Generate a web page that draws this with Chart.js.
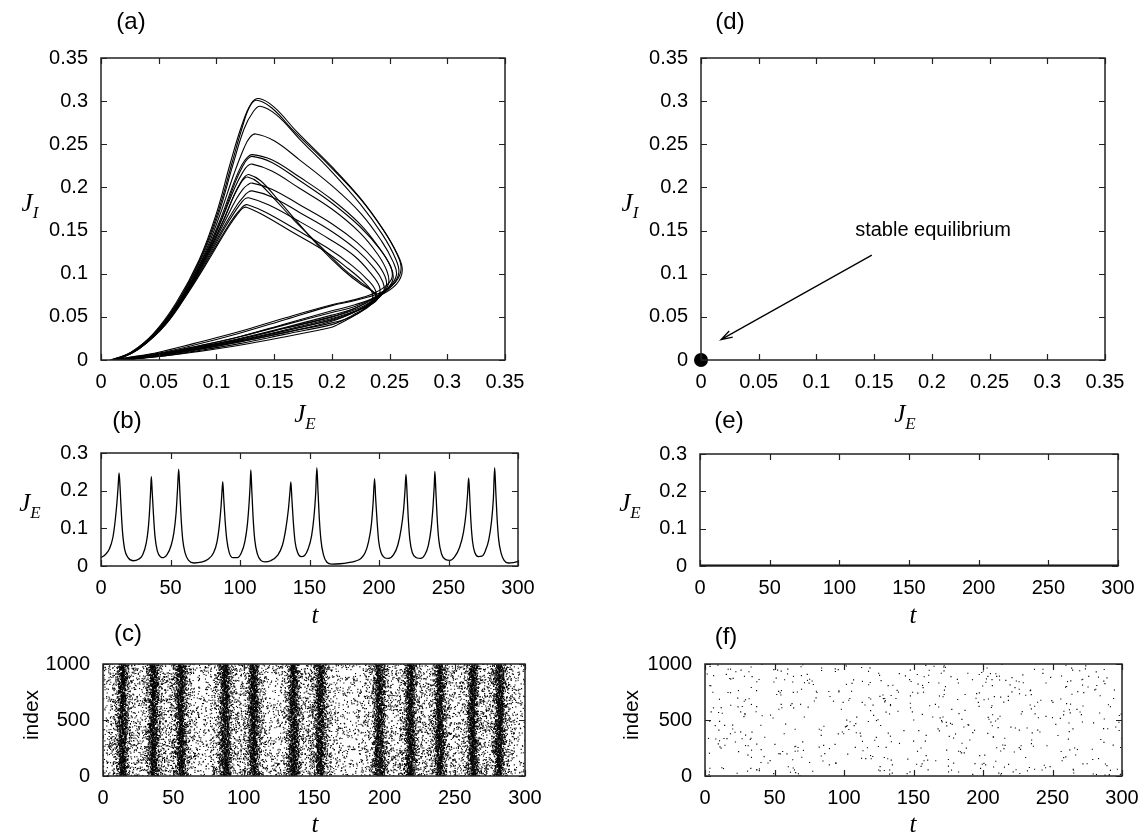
<!DOCTYPE html>
<html>
<head>
<meta charset="utf-8">
<script src="https://cdn.jsdelivr.net/npm/chart.js@4/dist/chart.umd.min.js"></script>
<style>
  body { margin: 0; background: #fff; width: 1147px; height: 832px; position: relative; overflow: hidden; }
  canvas { position: absolute; }
  .t { position: absolute; transform: translate(-50%, -50%); white-space: nowrap; color: #000;
       font-family: "Liberation Sans", Arial, sans-serif; font-size: 24px; line-height: 1; }
  .m { font-family: "Liberation Serif", "Times New Roman", serif; font-style: italic; font-size: 25px; }
  .m sub { font-size: 17px; vertical-align: -7px; }
  .rot { transform: translate(-50%, -50%) rotate(-90deg); font-size: 21px; }
</style>
</head>
<body>
<canvas id="pa"></canvas><canvas id="pb"></canvas><canvas id="pc"></canvas>
<canvas id="pd"></canvas><canvas id="pe"></canvas><canvas id="pf"></canvas>

<div class="t" style="left:131px;top:21px">(a)</div>
<div class="t" style="left:127px;top:420px">(b)</div>
<div class="t" style="left:128px;top:633px">(c)</div>
<div class="t" style="left:730px;top:21px">(d)</div>
<div class="t" style="left:729px;top:420px">(e)</div>
<div class="t" style="left:726px;top:636px">(f)</div>

<div class="t m" style="left:30px;top:205px">J<sub>I</sub></div>
<div class="t m" style="left:305px;top:416px">J<sub>E</sub></div>
<div class="t m" style="left:30px;top:505px">J<sub>E</sub></div>
<div class="t m" style="left:315px;top:614px">t</div>
<div class="t rot" style="left:30px;top:715px">index</div>
<div class="t m" style="left:315px;top:823px">t</div>

<div class="t m" style="left:630px;top:205px">J<sub>I</sub></div>
<div class="t m" style="left:905px;top:416px">J<sub>E</sub></div>
<div class="t m" style="left:630px;top:505px">J<sub>E</sub></div>
<div class="t m" style="left:913px;top:614px">t</div>
<div class="t rot" style="left:630px;top:715px">index</div>
<div class="t m" style="left:913px;top:823px">t</div>

<script>
// tick values
const phaseTicks = [0, 0.05, 0.1, 0.15, 0.2, 0.25, 0.3, 0.35];
const jeTicks = [0, 0.1, 0.2, 0.3];
const timeTicks = [0, 50, 100, 150, 200, 250, 300];
const indexTicks = [0, 500, 1000];

// (a) trajectory loops, [J_E, J_I]
const loop1 = [[0.008,0],[0.025,0.008],[0.045,0.03],[0.065,0.066],[0.085,0.116],[0.1,0.17],[0.112,0.228],[0.122,0.272],[0.13,0.297],[0.137,0.303],[0.15,0.293],[0.17,0.264],[0.2,0.224],[0.225,0.187],[0.245,0.15],[0.257,0.122],[0.261,0.104],[0.256,0.088],[0.242,0.075],[0.22,0.064],[0.2,0.057],[0.16,0.042],[0.12,0.027],[0.08,0.015],[0.05,0.007],[0.025,0.002],[0.008,0]];
const loop2 = [[0.009,0],[0.026,0.008],[0.046,0.03],[0.066,0.066],[0.086,0.117],[0.101,0.17],[0.113,0.226],[0.122,0.268],[0.129,0.294],[0.135,0.301],[0.148,0.292],[0.168,0.264],[0.198,0.225],[0.224,0.188],[0.244,0.152],[0.256,0.124],[0.26,0.106],[0.255,0.09],[0.242,0.078],[0.22,0.069],[0.2,0.063],[0.16,0.047],[0.12,0.031],[0.08,0.017],[0.05,0.008],[0.025,0.003],[0.009,0]];
const loop3 = [[0.009,0],[0.026,0.009],[0.047,0.032],[0.067,0.068],[0.087,0.118],[0.102,0.17],[0.114,0.225],[0.124,0.268],[0.132,0.288],[0.138,0.294],[0.152,0.284],[0.172,0.256],[0.2,0.218],[0.225,0.18],[0.244,0.145],[0.255,0.118],[0.258,0.101],[0.252,0.086],[0.238,0.072],[0.22,0.06],[0.2,0.052],[0.16,0.038],[0.12,0.025],[0.08,0.014],[0.05,0.006],[0.025,0.002],[0.009,0]];
const loop4 = [[0.01,0],[0.027,0.009],[0.048,0.032],[0.068,0.068],[0.088,0.118],[0.103,0.168],[0.115,0.215],[0.124,0.246],[0.129,0.258],[0.134,0.262],[0.15,0.254],[0.172,0.232],[0.2,0.202],[0.225,0.17],[0.243,0.138],[0.253,0.114],[0.256,0.099],[0.25,0.085],[0.236,0.072],[0.22,0.062],[0.2,0.055],[0.16,0.041],[0.12,0.027],[0.08,0.015],[0.05,0.007],[0.025,0.002],[0.01,0]];
const loop5 = [[0.01,0],[0.028,0.01],[0.049,0.034],[0.069,0.07],[0.089,0.119],[0.104,0.165],[0.115,0.205],[0.122,0.226],[0.127,0.235],[0.131,0.238],[0.148,0.232],[0.172,0.212],[0.2,0.186],[0.224,0.158],[0.241,0.13],[0.251,0.108],[0.253,0.094],[0.247,0.081],[0.234,0.07],[0.22,0.06],[0.2,0.05],[0.16,0.037],[0.12,0.024],[0.08,0.014],[0.05,0.006],[0.025,0.002],[0.01,0]];
const loop6 = [[0.011,0],[0.029,0.01],[0.05,0.034],[0.07,0.07],[0.09,0.119],[0.105,0.165],[0.116,0.205],[0.123,0.225],[0.127,0.233],[0.131,0.236],[0.148,0.229],[0.172,0.208],[0.2,0.182],[0.224,0.155],[0.242,0.128],[0.251,0.108],[0.252,0.095],[0.246,0.085],[0.234,0.076],[0.22,0.07],[0.2,0.064],[0.16,0.049],[0.12,0.033],[0.08,0.019],[0.05,0.009],[0.025,0.003],[0.011,0]];
const loop7 = [[0.011,0],[0.029,0.01],[0.05,0.035],[0.07,0.071],[0.09,0.12],[0.105,0.164],[0.116,0.2],[0.123,0.218],[0.127,0.225],[0.131,0.227],[0.148,0.219],[0.172,0.199],[0.2,0.175],[0.224,0.148],[0.24,0.122],[0.248,0.102],[0.249,0.088],[0.242,0.074],[0.23,0.06],[0.215,0.049],[0.2,0.043],[0.16,0.032],[0.12,0.021],[0.08,0.012],[0.05,0.005],[0.025,0.001],[0.011,0]];
const loop8 = [[0.012,0],[0.03,0.011],[0.051,0.036],[0.071,0.072],[0.091,0.12],[0.106,0.162],[0.116,0.193],[0.122,0.208],[0.125,0.213],[0.128,0.215],[0.138,0.208],[0.152,0.188],[0.17,0.16],[0.19,0.13],[0.21,0.104],[0.225,0.088],[0.236,0.079],[0.24,0.073],[0.236,0.066],[0.222,0.057],[0.2,0.047],[0.16,0.034],[0.12,0.022],[0.08,0.012],[0.05,0.005],[0.025,0.001],[0.012,0]];
const loop9 = [[0.012,0],[0.03,0.011],[0.051,0.036],[0.071,0.072],[0.091,0.12],[0.106,0.161],[0.115,0.19],[0.121,0.205],[0.124,0.21],[0.127,0.212],[0.136,0.206],[0.15,0.187],[0.168,0.161],[0.19,0.132],[0.21,0.106],[0.225,0.09],[0.235,0.08],[0.238,0.074],[0.233,0.066],[0.22,0.056],[0.2,0.045],[0.16,0.032],[0.12,0.021],[0.08,0.011],[0.05,0.005],[0.025,0.001],[0.012,0]];
const loop10 = [[0.012,0],[0.031,0.012],[0.052,0.037],[0.072,0.074],[0.092,0.121],[0.107,0.16],[0.117,0.186],[0.123,0.198],[0.127,0.203],[0.131,0.205],[0.148,0.198],[0.172,0.18],[0.2,0.158],[0.222,0.136],[0.238,0.114],[0.246,0.097],[0.247,0.085],[0.24,0.073],[0.228,0.063],[0.215,0.056],[0.2,0.05],[0.16,0.037],[0.12,0.024],[0.08,0.013],[0.05,0.006],[0.025,0.002],[0.012,0]];
const loop11 = [[0.013,0],[0.032,0.012],[0.053,0.038],[0.073,0.075],[0.093,0.122],[0.108,0.158],[0.118,0.18],[0.124,0.19],[0.127,0.194],[0.131,0.196],[0.148,0.189],[0.172,0.171],[0.2,0.149],[0.222,0.127],[0.237,0.106],[0.244,0.091],[0.245,0.08],[0.238,0.069],[0.226,0.06],[0.212,0.053],[0.2,0.048],[0.16,0.035],[0.12,0.023],[0.08,0.013],[0.05,0.006],[0.025,0.002],[0.013,0]];
const loop12 = [[0.013,0],[0.032,0.013],[0.054,0.039],[0.074,0.077],[0.094,0.122],[0.108,0.155],[0.117,0.174],[0.122,0.183],[0.125,0.187],[0.128,0.188],[0.145,0.18],[0.17,0.162],[0.198,0.14],[0.22,0.12],[0.234,0.1],[0.241,0.086],[0.241,0.076],[0.234,0.066],[0.222,0.057],[0.21,0.05],[0.2,0.046],[0.16,0.034],[0.12,0.022],[0.08,0.012],[0.05,0.005],[0.025,0.001],[0.013,0]];
const loop13 = [[0.014,0],[0.033,0.013],[0.055,0.04],[0.075,0.078],[0.095,0.122],[0.108,0.151],[0.116,0.167],[0.121,0.175],[0.124,0.179],[0.127,0.18],[0.143,0.171],[0.168,0.152],[0.196,0.13],[0.217,0.11],[0.231,0.093],[0.238,0.08],[0.237,0.07],[0.229,0.06],[0.218,0.052],[0.208,0.045],[0.2,0.041],[0.16,0.03],[0.12,0.019],[0.08,0.01],[0.05,0.004],[0.025,0.001],[0.014,0]];
const loop14 = [[0.014,0],[0.034,0.014],[0.056,0.041],[0.076,0.079],[0.096,0.122],[0.108,0.149],[0.116,0.165],[0.12,0.172],[0.123,0.176],[0.126,0.177],[0.142,0.167],[0.166,0.148],[0.194,0.126],[0.214,0.106],[0.228,0.09],[0.235,0.078],[0.234,0.067],[0.226,0.057],[0.215,0.048],[0.205,0.041],[0.2,0.038],[0.16,0.027],[0.12,0.017],[0.08,0.009],[0.05,0.004],[0.025,0.001],[0.014,0]];
const loops = [loop1, loop2, loop3, loop4, loop5, loop6, loop7, loop8, loop9, loop10, loop11, loop12, loop13, loop14];

// (b) J_E against t
const seriesT = [0,3,6,8.5,10.2,11.5,12.3,13,13.7,14.5,15.5,17,19.5,23,
  27,30,32.5,34,35,35.7,36.2,36.8,37.7,38.8,40.5,43,
  45,47.5,50.5,52.5,54,55,55.9,56.7,57.6,58.8,60.5,63,67,72,
  77,81,83.5,85.2,86.4,87,87.6,88.3,89.3,90.5,92.3,95,
  98,101,103.5,105.3,106.6,107.3,107.8,108.5,109.4,110.6,112.5,115,118,
  122,127,130.5,133,134.8,135.9,136.6,137.3,138.3,139.6,141.5,144,
  146.5,149,151.5,153.2,154.4,155.3,156.1,157,158.2,160,162.5,166,172,178,183,187,
  190,192.5,194.5,195.8,196.8,197.6,198.6,199.8,201.5,204,207,
  210.5,213.5,216,217.7,218.7,219.4,220.1,221,222.2,224,227,230,
  233,235.5,237.5,238.9,239.7,240.2,240.9,241.8,243,245,248,251,
  254.5,258,260.8,262.6,263.7,264.5,265.2,266.1,267.3,269,271.5,274,
  276.5,279,281,282.3,283.2,284,284.9,286.1,287.8,290,293,296.5,300];
const seriesJE = [0.022,0.030,0.045,0.075,0.12,0.17,0.21,0.247,0.21,0.15,0.09,0.045,0.022,0.014,
  0.018,0.03,0.06,0.10,0.15,0.2,0.237,0.2,0.14,0.08,0.04,0.024,
  0.022,0.03,0.055,0.09,0.14,0.2,0.257,0.2,0.13,0.07,0.035,0.015,0.008,0.01,
  0.018,0.035,0.065,0.11,0.16,0.195,0.224,0.18,0.12,0.07,0.035,0.022,
  0.022,0.035,0.065,0.11,0.17,0.215,0.255,0.2,0.13,0.07,0.032,0.015,0.011,
  0.014,0.028,0.055,0.1,0.15,0.195,0.223,0.18,0.12,0.065,0.035,0.025,
  0.028,0.045,0.08,0.13,0.19,0.261,0.2,0.13,0.07,0.03,0.01,0.005,0.006,0.009,0.013,0.02,
  0.035,0.065,0.11,0.17,0.232,0.18,0.12,0.065,0.035,0.022,0.02,
  0.03,0.055,0.1,0.15,0.2,0.243,0.2,0.13,0.07,0.035,0.022,0.02,
  0.03,0.055,0.1,0.16,0.21,0.251,0.2,0.13,0.07,0.032,0.017,0.015,
  0.025,0.05,0.09,0.14,0.19,0.234,0.19,0.12,0.065,0.035,0.025,0.026,
  0.04,0.07,0.12,0.18,0.261,0.2,0.13,0.07,0.035,0.015,0.008,0.009,0.012];

// (c) raster: band centres (they sit on the J_E spikes)
const burstTimes = [14, 36, 55.5, 87, 107, 135.5, 154.5, 196.5, 218.5, 239.5, 263, 282];
const burstSpread = 1.8;
const fringeSpread = 5;
const neuronCount = 1000;
const fringeSpikes = 650;
const backgroundSpikesC = 4500;
// (f) raster: only scattered spikes
const backgroundSpikesF = 600;

// (d)/(e) quiet state
const equilibrium = [0, 0];
const quietT = [0, 300];
const quietJE = [0.002, 0.002];

// ---- raster points (the dots cannot be read one by one; seeded so the page is stable) ----
let seed = 20240611;
function rnd() { seed = (seed * 1664525 + 1013904223) >>> 0; return seed / 4294967296; }
function gauss() { return Math.sqrt(-2 * Math.log(rnd() + 1e-9)) * Math.cos(2 * Math.PI * rnd()); }

const spikesC = [];
burstTimes.forEach(tb => {
  for (let i = 0; i < neuronCount; i++) spikesC.push({x: tb + gauss() * burstSpread, y: i});
  for (let i = 0; i < fringeSpikes; i++) spikesC.push({x: tb + gauss() * fringeSpread, y: rnd() * neuronCount});
});
for (let i = 0; i < backgroundSpikesC; i++) spikesC.push({x: rnd() * 300, y: rnd() * neuronCount});
const spikesF = [];
for (let i = 0; i < backgroundSpikesF; i++) spikesF.push({x: rnd() * 300, y: rnd() * neuronCount});

// ---- drawing ----
const FONT = '"Liberation Sans", Arial, sans-serif';

const framePlugin = {
  id: 'frame',
  afterDatasetsDraw(chart) {
    const {ctx, chartArea: a, scales: {x, y}} = chart;
    const tl = 6;
    ctx.save();
    ctx.strokeStyle = '#222';
    ctx.lineWidth = 1.2;
    ctx.beginPath();
    x.ticks.forEach(t => {
      const px = Math.round(x.getPixelForValue(t.value)) + 0.5;
      ctx.moveTo(px, a.bottom); ctx.lineTo(px, a.bottom - tl);
      ctx.moveTo(px, a.top); ctx.lineTo(px, a.top + tl);
    });
    y.ticks.forEach(t => {
      const py = Math.round(y.getPixelForValue(t.value)) + 0.5;
      ctx.moveTo(a.left, py); ctx.lineTo(a.left + tl, py);
      ctx.moveTo(a.right, py); ctx.lineTo(a.right - tl, py);
    });
    ctx.stroke();
    ctx.lineWidth = 1.5;
    ctx.strokeRect(a.left, a.top, a.right - a.left, a.bottom - a.top);
    ctx.restore();
  }
};

// arrow + text pointing at the equilibrium in (d)
const arrowTail = [0.148, 0.1215];
const arrowHead = [0.0173, 0.0236];
const noteAt = [0.201, 0.1497];
const notePlugin = {
  id: 'note',
  afterDatasetsDraw(chart) {
    const {ctx, scales: {x, y}} = chart;
    const x0 = x.getPixelForValue(arrowTail[0]), y0 = y.getPixelForValue(arrowTail[1]);
    const x1 = x.getPixelForValue(arrowHead[0]), y1 = y.getPixelForValue(arrowHead[1]);
    const ang = Math.atan2(y1 - y0, x1 - x0), L = 12, W = 0.3;
    ctx.save();
    ctx.strokeStyle = '#000';
    ctx.lineWidth = 1.3;
    ctx.beginPath();
    ctx.moveTo(x0, y0); ctx.lineTo(x1, y1);
    ctx.moveTo(x1 - L * Math.cos(ang - W), y1 - L * Math.sin(ang - W));
    ctx.lineTo(x1, y1);
    ctx.lineTo(x1 - L * Math.cos(ang + W), y1 - L * Math.sin(ang + W));
    ctx.stroke();
    ctx.fillStyle = '#000';
    ctx.font = '20px ' + FONT;
    ctx.textAlign = 'center';
    ctx.textBaseline = 'middle';
    ctx.fillText('stable equilibrium', x.getPixelForValue(noteAt[0]), y.getPixelForValue(noteAt[1]));
    ctx.restore();
  }
};

const M = {l: 80, t: 16, r: 34, b: 46};

function axis(range, ticks, horizontal) {
  return {
    type: 'linear', min: range[0], max: range[1],
    afterBuildTicks: s => { s.ticks = ticks.map(v => ({value: v})); },
    afterFit: s => { if (horizontal) s.height = M.b; else s.width = M.l; },
    grid: {display: false, drawTicks: false},
    border: {display: false},
    ticks: {
      autoSkip: false, maxRotation: 0, minRotation: 0,
      padding: horizontal ? 10 : 13,
      color: '#000',
      font: {family: FONT, size: 20},
      callback: v => String(v)
    }
  };
}

function panel(id, rect, xr, xt, yr, yt, datasets, extra) {
  const cv = document.getElementById(id);
  const w = rect[2] - rect[0] + M.l + M.r;
  const h = rect[3] - rect[1] + M.t + M.b;
  cv.width = w; cv.height = h;
  cv.style.left = (rect[0] - M.l) + 'px';
  cv.style.top = (rect[1] - M.t) + 'px';
  cv.style.width = w + 'px'; cv.style.height = h + 'px';
  return new Chart(cv, {
    type: 'scatter',
    data: {datasets},
    options: {
      responsive: false, animation: false, events: [],
      layout: {padding: {left: 0, top: M.t, right: M.r, bottom: 0}},
      plugins: {legend: {display: false}, tooltip: {enabled: false}},
      scales: {x: axis(xr, xt, true), y: axis(yr, yt, false)}
    },
    plugins: [framePlugin].concat(extra || [])
  });
}

function loopSet(loop) {
  return {
    data: loop.map(p => ({x: p[0], y: p[1]})),
    showLine: true, tension: 0.4, pointRadius: 0,
    borderColor: '#000', borderWidth: 1.1
  };
}
function raster(points) {
  return {
    data: points, pointStyle: 'rect', pointRadius: 0.8,
    backgroundColor: '#000', borderWidth: 0
  };
}

panel('pa', [101, 49, 505, 360], [0, 0.35], phaseTicks, [0, 0.35], phaseTicks, loops.map(loopSet));

panel('pb', [101, 444, 518, 566], [0, 300], timeTicks, [0, 0.3], jeTicks, [{
  data: seriesT.map((t, i) => ({x: t, y: seriesJE[i]})),
  showLine: true, cubicInterpolationMode: 'monotone', pointRadius: 0,
  borderColor: '#000', borderWidth: 1.3
}]);

panel('pc', [103, 655, 525, 776], [0, 300], timeTicks, [0, 1000], indexTicks, [raster(spikesC)]);

panel('pd', [701, 49, 1105, 360], [0, 0.35], phaseTicks, [0, 0.35], phaseTicks, [{
  data: [{x: equilibrium[0], y: equilibrium[1]}],
  pointRadius: 7, backgroundColor: '#000', borderWidth: 0, clip: false
}], [notePlugin]);

panel('pe', [700, 445, 1118, 566], [0, 300], timeTicks, [0, 0.3], jeTicks, [{
  data: quietT.map((t, i) => ({x: t, y: quietJE[i]})),
  showLine: true, pointRadius: 0, borderColor: '#000', borderWidth: 1.3
}]);

panel('pf', [705, 655, 1122, 776], [0, 300], timeTicks, [0, 1000], indexTicks, [raster(spikesF)]);
</script>
</body>
</html>
